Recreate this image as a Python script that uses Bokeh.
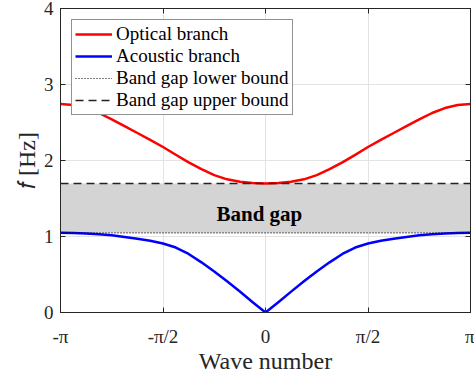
from bokeh.plotting import figure
from bokeh.models import Range1d, FixedTicker, LinearAxis, Legend, LegendItem
from bokeh.core.properties import value
from bokeh.embed import file_html
from bokeh.resources import INLINE

# wave number in units of pi
wave_number = [-1.0, -0.9375, -0.875, -0.8125, -0.75, -0.6875, -0.625, -0.5625, -0.5,
               -0.4375, -0.375, -0.3125, -0.25, -0.1875, -0.125, -0.0625, 0.0,
               0.0625, 0.125, 0.1875, 0.25, 0.3125, 0.375, 0.4375, 0.5,
               0.5625, 0.625, 0.6875, 0.75, 0.8125, 0.875, 0.9375, 1.0]
optical = [2.744, 2.730, 2.690, 2.625, 2.542, 2.452, 2.362, 2.272, 2.178,
           2.075, 1.975, 1.886, 1.808, 1.752, 1.720, 1.703, 1.696,
           1.703, 1.720, 1.752, 1.808, 1.886, 1.975, 2.075, 2.178,
           2.272, 2.362, 2.452, 2.542, 2.625, 2.690, 2.730, 2.744]
acoustic = [1.048, 1.046, 1.040, 1.030, 1.016, 0.993, 0.970, 0.944, 0.908,
            0.855, 0.770, 0.660, 0.540, 0.410, 0.275, 0.135, 0.000,
            0.135, 0.275, 0.410, 0.540, 0.660, 0.770, 0.855, 0.908,
            0.944, 0.970, 0.993, 1.016, 1.030, 1.040, 1.046, 1.048]
gap_lower = 1.048
gap_upper = 1.696
x_ticks = [-1.0, -0.5, 0.0, 0.5, 1.0]
x_tick_labels = ["-π", "-π/2", "0", "π/2", "π"]
y_ticks = [0, 1, 2, 3, 4]

FONT = "Liberation Serif"
TXT = "#262626"

p = figure(width=474, height=377, output_backend="svg", toolbar_location=None,
           x_range=Range1d(-1, 1), y_range=Range1d(0, 4),
           min_border_left=60, min_border_right=4, min_border_top=8, min_border_bottom=65)
p.outline_line_color = TXT
p.outline_line_width = 1
p.background_fill_color = "white"
p.border_fill_color = "white"

# band gap region
p.quad(left=[x_ticks[0]], right=[x_ticks[-1]], bottom=[gap_lower], top=[gap_upper],
       fill_color="#d4d4d4", line_color=None)

r_opt = p.line(wave_number, optical, line_color="#ff0000", line_width=2.5, line_join="round")
r_ac = p.line(wave_number, acoustic, line_color="#0000ff", line_width=2.5, line_join="round")
r_lo = p.line([x_ticks[0], x_ticks[-1]], [gap_lower, gap_lower], line_color="black",
              line_width=1.2, line_dash="1 2")
r_hi = p.line([x_ticks[0], x_ticks[-1]], [gap_upper, gap_upper], line_color="#222222",
              line_width=1.5, line_dash="8 5")

p.text(x=[-0.03], y=[1.294], text=["Band gap"], text_font=value(FONT),
       text_font_size="21px", text_font_style="bold", text_align="center",
       text_baseline="alphabetic", text_color="black")

# axes
p.xaxis.ticker = FixedTicker(ticks=x_ticks)
p.xaxis.major_label_overrides = {t: l for t, l in zip(x_ticks, x_tick_labels)}
p.yaxis.ticker = FixedTicker(ticks=y_ticks)
p.xaxis.axis_label = "Wave number"
p.yaxis.axis_label = "\U0001D453 [Hz]"
for ax in [p.xaxis[0], p.yaxis[0]]:
    ax.axis_line_color = TXT
    ax.major_tick_line_color = TXT
    ax.major_tick_in = 5
    ax.major_tick_out = 0
    ax.minor_tick_line_color = None
    ax.major_label_text_font = FONT
    ax.major_label_text_font_size = "19px"
    ax.major_label_text_color = TXT
    ax.axis_label_text_font = FONT
    ax.axis_label_text_font_size = "24px"
    ax.axis_label_text_font_style = "normal"
    ax.axis_label_text_color = TXT
p.xaxis.major_label_standoff = 13
p.xaxis.axis_label_standoff = -2
p.yaxis.major_label_standoff = 7
p.yaxis.axis_label_standoff = 1

for loc, ticks in [("above", x_ticks), ("right", y_ticks)]:
    ax = LinearAxis(ticker=FixedTicker(ticks=ticks))
    ax.axis_line_color = TXT
    ax.major_tick_line_color = TXT
    ax.major_tick_in = 5
    ax.major_tick_out = 0
    ax.minor_tick_line_color = None
    ax.major_label_text_color = None
    ax.major_label_text_font_size = "1px"
    ax.major_label_standoff = 0
    p.add_layout(ax, loc)

p.xgrid.ticker = FixedTicker(ticks=x_ticks)
p.ygrid.ticker = FixedTicker(ticks=y_ticks)
p.grid.grid_line_color = "#e3e3e3"
p.grid.grid_line_width = 1

legend = Legend(items=[LegendItem(label="Optical branch", renderers=[r_opt]),
                       LegendItem(label="Acoustic branch", renderers=[r_ac]),
                       LegendItem(label="Band gap lower bound", renderers=[r_lo]),
                       LegendItem(label="Band gap upper bound", renderers=[r_hi])],
                location="top_left", margin=11, padding=3, spacing=0,
                label_height=20, glyph_height=20, glyph_width=37, label_standoff=4,
                label_text_font=FONT, label_text_font_size="19px", label_text_color="black",
                border_line_color=TXT, border_line_width=1,
                background_fill_color="white", background_fill_alpha=1.0)
p.add_layout(legend)

open("out.html", "w").write(file_html(p, INLINE))
